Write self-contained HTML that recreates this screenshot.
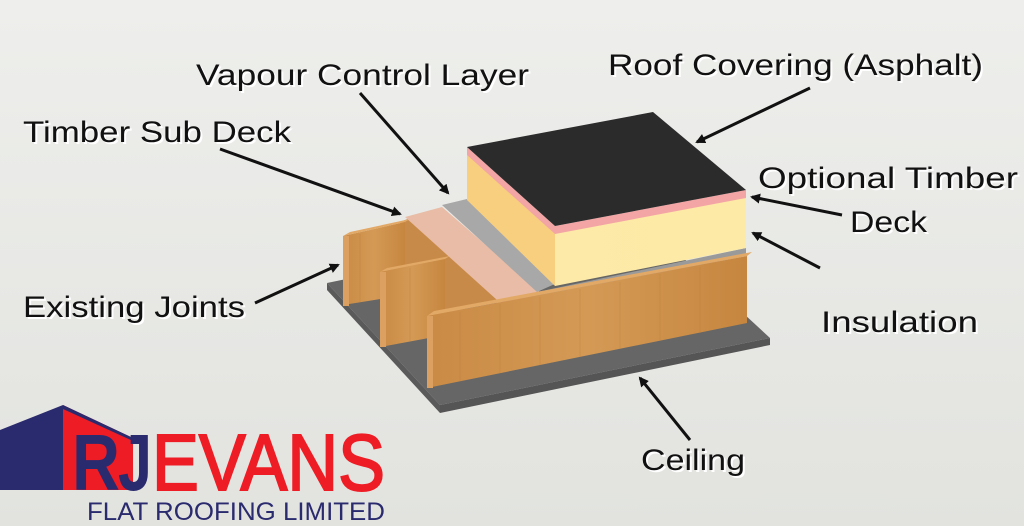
<!DOCTYPE html>
<html><head><meta charset="utf-8"><style>
html,body{margin:0;padding:0;width:1024px;height:526px;overflow:hidden;}
svg{display:block}
.t{font-family:"Liberation Sans",sans-serif;font-size:30px;fill:#111;}
.s{font-family:"Liberation Sans",sans-serif;font-size:30px;fill:#fff;}
</style></head><body>
<svg width="1024" height="526" viewBox="0 0 1024 526" xmlns="http://www.w3.org/2000/svg">
<defs>
<linearGradient id="bg" x1="0" y1="0" x2="0" y2="1"><stop offset="0" stop-color="#eeefec"/><stop offset="1" stop-color="#e2e3df"/></linearGradient>
<linearGradient id="wood" x1="0" y1="0" x2="1" y2="0"><stop offset="0" stop-color="#c98a45"/><stop offset="0.5" stop-color="#d49a55"/><stop offset="1" stop-color="#c68640"/></linearGradient>
<linearGradient id="ins" x1="0" y1="0" x2="1" y2="0"><stop offset="0" stop-color="#fde9a8"/><stop offset="1" stop-color="#fdeaa6"/></linearGradient>
<marker id="ah" markerWidth="10" markerHeight="10" refX="8" refY="5" orient="auto" markerUnits="userSpaceOnUse"><path d="M0,0 L10,5 L0,10 Z" fill="#111"/></marker>
</defs>
<rect width="1024" height="526" fill="url(#bg)"/>

<!-- ceiling -->
<polygon points="327,283 640,218 770,338 440,405" fill="#666"/>
<polygon points="440,405 770,338 770,345 440,413" fill="#555"/>
<polygon points="327,283 440,405 440,413 327,290" fill="#5a5a5a"/>

<!-- wood behind joists -->
<polygon points="400,222 410,218 500,300 440,315 440,262 400,270" fill="#c88a48"/>
<!-- left joist -->
<polygon points="343,236 405,222 405,295 343,305" fill="url(#wood)"/>
<polygon points="343,236 350,232 410,219 405,222" fill="#e2a866"/>
<rect x="343" y="236" width="6" height="70" fill="#dca060"/>
<!-- middle joist -->
<polygon points="380,272 445,259 445,335 380,347" fill="url(#wood)"/>
<polygon points="380,272 387,268 450,256 445,259" fill="#e2a866"/>
<rect x="380" y="272" width="6" height="75" fill="#dca060"/>

<!-- pink sub deck -->
<polygon points="405,217 442,207 540,292 497,300" fill="#e8bca6"/>
<polygon points="497,300 540,292 540,296 497,304" fill="#c99a85"/>
<!-- gray VCL strip -->
<polygon points="442,205 467,199 557,283 537,292" fill="#a8a8a8"/>
<polygon points="537,292 746,248 746,256 537,298" fill="#9a9a9a"/>

<!-- insulation -->
<polygon points="467,152 555,230 555,286 467,200" fill="#f8cf7e"/>
<polygon points="555,230 746,194 746,248 555,286" fill="url(#ins)"/>
<polygon points="467,147 555,226 746,190 746,198 555,234 467,155" fill="#f3a5a5"/>
<polygon points="467,147 653,112 746,190 555,226" fill="#2b2b2b"/>

<!-- front joist -->
<polygon points="427,316 747,256 747,323 427,388" fill="url(#wood)"/>
<polygon points="427,316 434,311 752,252 747,256" fill="#e2a866"/>
<rect x="427" y="316" width="6" height="72" fill="#dca060"/>
<g stroke="#b87a3a" stroke-width="0.6" opacity="0.5">
<line x1="460" y1="312" x2="460" y2="381"/><line x1="500" y1="304" x2="500" y2="373"/><line x1="540" y1="297" x2="540" y2="365"/><line x1="580" y1="289" x2="580" y2="357"/><line x1="620" y1="282" x2="620" y2="349"/><line x1="660" y1="274" x2="660" y2="341"/><line x1="700" y1="267" x2="700" y2="333"/><line x1="360" y1="234" x2="360" y2="302"/><line x1="410" y1="268" x2="410" y2="341"/>
</g>

<!-- arrows -->
<g stroke="#111" stroke-width="3" fill="none">
<line x1="360" y1="93" x2="448" y2="193" marker-end="url(#ah)"/>
<line x1="220" y1="149" x2="400" y2="214" marker-end="url(#ah)"/>
<line x1="255" y1="303" x2="338" y2="265" marker-end="url(#ah)"/>
<line x1="810" y1="88" x2="697" y2="142" marker-end="url(#ah)"/>
<line x1="842" y1="215" x2="752" y2="197" marker-end="url(#ah)"/>
<line x1="820" y1="268" x2="753" y2="233" marker-end="url(#ah)"/>
<line x1="690" y1="440" x2="640" y2="378" marker-end="url(#ah)"/>
</g>

<!-- labels -->
<g>
<text class="s" x="198" y="87" textLength="333" lengthAdjust="spacingAndGlyphs">Vapour Control Layer</text>
<text class="t" x="196" y="85" textLength="333" lengthAdjust="spacingAndGlyphs">Vapour Control Layer</text>
<text class="s" x="25" y="144" textLength="268" lengthAdjust="spacingAndGlyphs">Timber Sub Deck</text>
<text class="t" x="23" y="142" textLength="268" lengthAdjust="spacingAndGlyphs">Timber Sub Deck</text>
<text class="s" x="610" y="77" textLength="375" lengthAdjust="spacingAndGlyphs">Roof Covering (Asphalt)</text>
<text class="t" x="608" y="75" textLength="375" lengthAdjust="spacingAndGlyphs">Roof Covering (Asphalt)</text>
<text class="s" x="760" y="190" textLength="260" lengthAdjust="spacingAndGlyphs">Optional Timber</text>
<text class="t" x="758" y="188" textLength="260" lengthAdjust="spacingAndGlyphs">Optional Timber</text>
<text class="s" x="852" y="234" textLength="77" lengthAdjust="spacingAndGlyphs">Deck</text>
<text class="t" x="850" y="232" textLength="77" lengthAdjust="spacingAndGlyphs">Deck</text>
<text class="s" x="25" y="319" textLength="222" lengthAdjust="spacingAndGlyphs">Existing Joints</text>
<text class="t" x="23" y="317" textLength="222" lengthAdjust="spacingAndGlyphs">Existing Joints</text>
<text class="s" x="823" y="334" textLength="157" lengthAdjust="spacingAndGlyphs">Insulation</text>
<text class="t" x="821" y="332" textLength="157" lengthAdjust="spacingAndGlyphs">Insulation</text>
<text class="s" x="643" y="472" textLength="104" lengthAdjust="spacingAndGlyphs">Ceiling</text>
<text class="t" x="641" y="470" textLength="104" lengthAdjust="spacingAndGlyphs">Ceiling</text>
</g>

<!-- logo -->
<polygon points="0,430 63,405 63,490 0,490" fill="#2a2a6e"/>
<polygon points="63,405 133,438 133,490 63,490" fill="#ee1c25"/>
<polygon points="63,405 133,438 133,441 63,409" fill="#2a2a6e"/>
<text x="72" y="490" font-family="Liberation Sans,sans-serif" font-weight="bold" font-size="80" fill="#2a2a6e" textLength="48" lengthAdjust="spacingAndGlyphs">R</text>
<text x="118" y="490" font-family="Liberation Sans,sans-serif" font-weight="bold" font-size="80" fill="#2a2a6e" textLength="34" lengthAdjust="spacingAndGlyphs">J</text>
<text x="152" y="490" font-family="Liberation Sans,sans-serif" font-size="80" fill="#ee1c25" stroke="#ee1c25" stroke-width="2" textLength="233" lengthAdjust="spacingAndGlyphs">EVANS</text>
<text x="87" y="520" font-family="Liberation Sans,sans-serif" font-size="25" fill="#2a2a6e" textLength="298" lengthAdjust="spacingAndGlyphs">FLAT ROOFING LIMITED</text>
</svg>
</body></html>
